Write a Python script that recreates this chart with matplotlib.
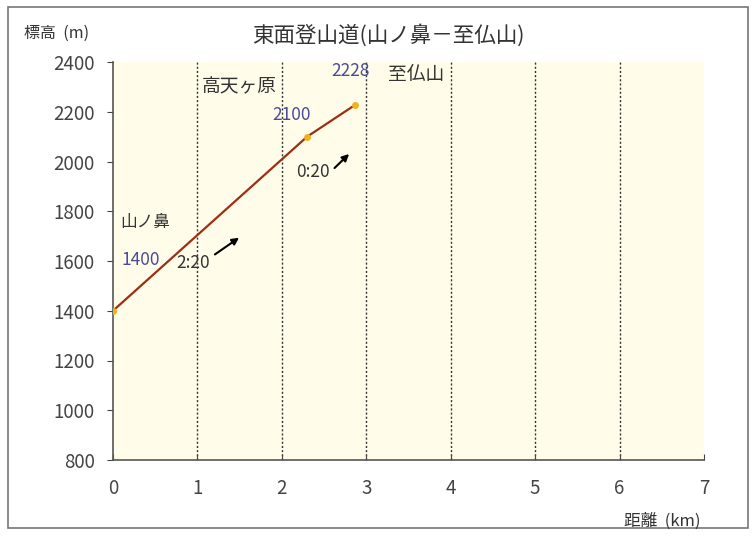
import matplotlib.pyplot as plt
from matplotlib.patches import Rectangle

plt.rcParams['font.family'] = ['Noto Sans CJK JP', 'DejaVu Sans']

# route profile
distance = [0, 2.3, 2.87]
elevation = [1400, 2100, 2228]
point_labels = ['1400', '2100', '2228']
place_names = ['山ノ鼻', '高天ヶ原', '至仏山']
times = ['2:20', '0:20']

xticks = [0, 1, 2, 3, 4, 5, 6, 7]
yticks = [800, 1000, 1200, 1400, 1600, 1800, 2000, 2200, 2400]

fig = plt.figure(figsize=(7.55, 5.37), dpi=100)
ax = fig.add_axes([113/755, 1-460/537, (704-113)/755, (460-62)/537])
ax.set_facecolor('#fffdea')

ax.plot(distance, elevation, color='#9c2e14', lw=1.6, zorder=3)
ax.plot(distance, elevation, 'o', color='#f2b01e', ms=4, zorder=4)

for x in xticks[1:-1]:
    ax.axvline(x, color='#333333', ls=(0, (1.5, 1.5)), lw=1, zorder=1)

ax.set_xlim(0, 7)
ax.set_ylim(800, 2400)
ax.set_xticks(xticks)
ax.set_yticks(yticks)
ax.tick_params(axis='x', direction='in', length=4, pad=13, labelsize=13.5, colors='#444444')
ax.tick_params(axis='y', direction='out', length=4, pad=9, labelsize=13.5, colors='#444444')
for s in ['top', 'right']:
    ax.spines[s].set_visible(False)
for s in ['left', 'bottom']:
    ax.spines[s].set_color('#555555')
    ax.spines[s].set_linewidth(1.2)

blue = '#4a4a9a'
ax.text(0.1, 1604, point_labels[0], color=blue, fontsize=12.5, va='center', ha='left')
ax.text(2.12, 2187, point_labels[1], color=blue, fontsize=12.5, va='center', ha='center')
ax.text(2.81, 2362, point_labels[2], color=blue, fontsize=12.5, va='center', ha='center')

ax.text(0.08, 1757, place_names[0], fontsize=12, va='center', ha='left', color='#333333')
ax.text(1.5, 2300, place_names[1], fontsize=13.5, va='center', ha='center', color='#333333')
ax.text(3.26, 2350, place_names[2], fontsize=13.5, va='center', ha='left', color='#333333')

ax.text(0.95, 1592, times[0], fontsize=12.5, va='center', ha='center', color='#333333')
ax.text(2.37, 1958, times[1], fontsize=12.5, va='center', ha='center', color='#333333')
ax.annotate('', xy=(1.52, 1700), xytext=(1.18, 1620),
            arrowprops=dict(arrowstyle='-|>', color='black', lw=1.5, mutation_scale=10))
ax.annotate('', xy=(2.82, 2038), xytext=(2.6, 1966),
            arrowprops=dict(arrowstyle='-|>', color='black', lw=1.5, mutation_scale=10))

fig.text(57/755, 1-33/537, '標高  (m)', fontsize=11.5, ha='center', va='center', color='#333333')
fig.text(388/755, 1-35/537, '東面登山道(山ノ鼻－至仏山)', fontsize=15.5, ha='center', va='center', color='#333333')
fig.text(662/755, 1-521/537, '距離  (km)', fontsize=12, ha='center', va='center', color='#333333')

# chart frame
fig.patches.append(Rectangle((8/755, 1-528/537), 740/755, 521/537, transform=fig.transFigure,
                             fill=False, ec='#777777', lw=1.2))

fig.savefig('out.png', dpi=100)
